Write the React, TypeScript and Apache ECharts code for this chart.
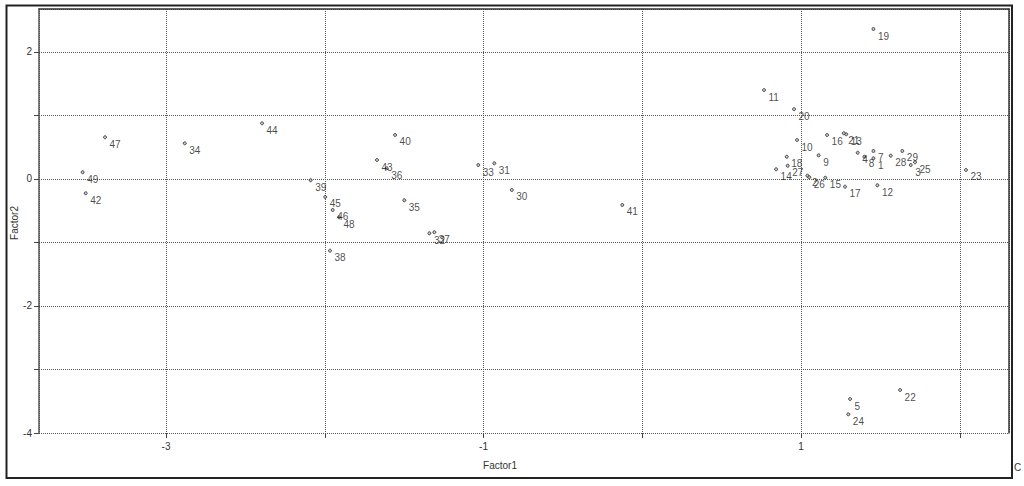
import React, { useEffect, useRef } from "react";
import * as echarts from "echarts";

const pointIds = [
  "1", "2", "3", "4", "5", "7", "8", "9", "10", "11", "12", "13", "14", "15", "16", "17", "18", "19", "20",
  "21", "22", "23", "24", "25", "26", "27", "28", "29", "30", "31", "32", "33", "34", "35", "36", "37", "38",
  "39", "40", "41", "42", "43", "44", "45", "46", "47", "48", "49",
];
const factor1 = [
  1.456, 1.04, 1.691, 1.357, 1.309, 1.456, 1.399, 1.111, 0.975, 0.767, 1.481, 1.285, 0.843, 1.153, 1.164, 1.277, 0.91, 1.456, 0.956,
  1.269, 1.624, 2.039, 1.298, 1.718, 1.052, 0.916, 1.565, 1.638, -0.822, -0.932, -1.341, -1.033, -2.882, -1.499, -1.61, -1.31, -1.967,
  -2.089, -1.557, -0.126, -3.506, -1.671, -2.395, -1.997, -1.95, -3.384, -1.91, -3.525,
];
const factor2 = [
  0.326, 0.052, 0.22, 0.414, -3.465, 0.441, 0.351, 0.373, 0.614, 1.4, -0.099, 0.704, 0.153, 0.02, 0.693, -0.121, 0.351, 2.362, 1.1,
  0.72, -3.323, 0.142, -3.706, 0.263, 0.027, 0.209, 0.367, 0.441, -0.173, 0.247, -0.855, 0.22, 0.562, -0.335, 0.169, -0.839, -1.129,
  -0.02, 0.693, -0.409, -0.225, 0.299, 0.877, -0.283, -0.488, 0.657, -0.603, 0.106,
];

const xMin = -3.8;
const xMax = 2.31;
const yMin = -4;
const yMax = 2.677;

const FONT = "'Liberation Sans', Arial, sans-serif";

const isInt = (v: number) => Math.abs(v - Math.round(v)) < 1e-6;

export default function App() {
  const ref = useRef<HTMLDivElement>(null);
  useEffect(() => {
    if (!ref.current) return;
    const chart = echarts.init(ref.current, null, { renderer: "svg" });
    const data = pointIds.map((id, i) => ({ value: [factor1[i], factor2[i]], name: id }));
    const dotted = { type: [1, 1] as any, color: "#555", width: 1 };
    chart.setOption({
      animation: false,
      backgroundColor: "#ffffff",
      grid: { left: 39, right: 15, top: 9, bottom: 53, containLabel: false },
      xAxis: [
        {
          type: "value",
          min: xMin,
          max: xMax,
          axisLine: { show: false, onZero: false },
          axisTick: { show: true, length: 5, lineStyle: { color: "#444" } },
          splitLine: { show: true, lineStyle: dotted },
          axisLabel: {
            margin: 8,
            fontSize: 10,
            fontFamily: FONT,
            color: "#333",
            showMinLabel: false,
            showMaxLabel: false,
            formatter: (v: number) => (isInt(v) && Math.abs(Math.round(v)) % 2 === 1 ? String(Math.round(v)) : ""),
          },
        },
        {
          type: "value",
          position: "top",
          min: xMin,
          max: xMax,
          axisLine: { show: true, onZero: false, lineStyle: { color: "#333", width: 1.5 } },
          axisTick: { show: false },
          axisLabel: { show: false },
          splitLine: { show: false },
        },
      ],
      yAxis: [
        {
          type: "value",
          min: yMin,
          max: yMax,
          axisLine: { show: true, onZero: false, lineStyle: { color: "#555", width: 1.5 } },
          axisTick: { show: true, length: 5, lineStyle: { color: "#444" } },
          splitLine: { show: true, lineStyle: dotted },
          axisLabel: {
            margin: 7,
            fontSize: 10,
            fontFamily: FONT,
            color: "#333",
            showMaxLabel: false,
            formatter: (v: number) => (isInt(v) && Math.round(v) % 2 === 0 ? String(Math.round(v)) : ""),
          },
        },
        {
          type: "value",
          position: "right",
          min: yMin,
          max: yMax,
          axisLine: { show: true, onZero: false, lineStyle: { color: "#333", width: 1.5 } },
          axisTick: { show: false },
          axisLabel: { show: false },
          splitLine: { show: false },
        },
      ],
      series: [
        {
          type: "scatter",
          xAxisIndex: 0,
          yAxisIndex: 0,
          data,
          symbol: "circle",
          symbolSize: 3,
          itemStyle: { color: "#bbbbbb", borderColor: "#222", borderWidth: 1 },
          label: {
            show: true,
            formatter: (p: any) => p.name,
            position: [6.5, 9],
            align: "left",
            verticalAlign: "middle",
            fontSize: 10,
            fontFamily: FONT,
            color: "#1a1a1a",
          },
          labelLayout: { hideOverlap: false },
        },
      ],
      graphic: [
        {
          type: "rect",
          shape: { x: 6.5, y: 5.5, width: 1005.5, height: 472.5 },
          style: { fill: "none", stroke: "#222", lineWidth: 2 },
          silent: true,
          z: 100,
        },
        {
          type: "text",
          x: 500,
          y: 465,
          style: { text: "Factor1", font: `10px ${FONT}`, fill: "#333", align: "center", verticalAlign: "middle" },
        },
        {
          type: "text",
          x: 14,
          y: 223,
          rotation: Math.PI / 2,
          style: { text: "Factor2", font: `10px ${FONT}`, fill: "#333", align: "center", verticalAlign: "middle" },
        },
        {
          type: "text",
          x: 1014,
          y: 467,
          style: { text: "C", font: `10px ${FONT}`, fill: "#333", align: "left", verticalAlign: "middle" },
        },
      ],
    });
    return () => chart.dispose();
  }, []);
  return (
    <div
      ref={ref}
      style={{ position: "fixed", left: 0, top: 0, width: 1024, height: 486, background: "#fff" }}
    />
  );
}
